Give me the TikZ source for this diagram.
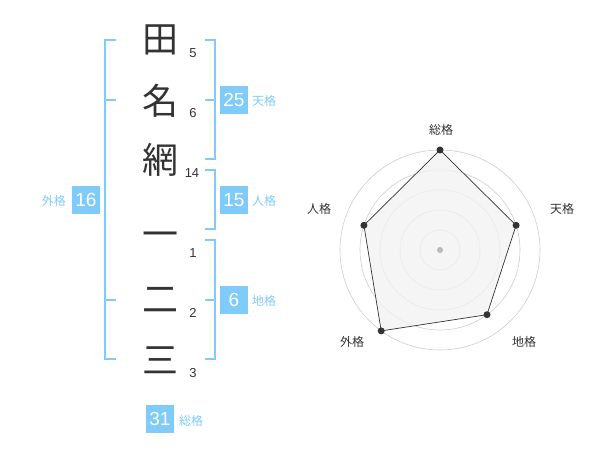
\documentclass[tikz,border=0pt]{standalone}
\usepackage{fontspec}
\usetikzlibrary{calc}
\setmainfont{Liberation Sans}
\newfontfamily\cjk{Noto Sans CJK JP}
\definecolor{bblue}{HTML}{7FCBF9}
\definecolor{ink}{HTML}{333333}
\definecolor{ringc}{HTML}{CCCCCC}
\definecolor{polyfill}{HTML}{F2F2F2}
\begin{document}
\begin{tikzpicture}[x=1pt,y=-1pt,
  kanji/.style={font=\cjk\fontsize{36}{36}\selectfont, text=ink, inner sep=0},
  strokes/.style={font=\fontsize{13}{13}\selectfont, text=ink, inner sep=0},
  numbox/.style={fill=bblue, text=white, minimum width=28pt, minimum height=28pt, inner sep=0, font=\fontsize{19}{19}\selectfont},
  kaku/.style={text=bblue, font=\cjk\fontsize{12}{12}\selectfont, inner sep=0},
  brk/.style={draw=bblue, line width=1.6pt},
  ring/.style={draw=ringc, line width=0.6pt},
  rlabel/.style={text=ink, font=\cjk\fontsize{12}{12}\selectfont, inner sep=0},
  vdot/.style={circle, fill=ink, inner sep=0, minimum size=7pt}
]
\useasboundingbox (0,0) rectangle (600,470);
% characters
\node[kanji] (c1) at (160,40) {田};
\node[kanji] (c2) at (160,101) {名};
\node[kanji] (c3) at (160,160) {網};
\node[kanji] (c4) at (160,240) {一};
\node[kanji] (c5) at (160,300) {二};
\node[kanji] (c6) at (160,360) {三};
\node[strokes] (s1) at (193,53) {5};
\node[strokes] (s2) at (193,113) {6};
\node[strokes] (s3) at (192,173) {14};
\node[strokes] (s4) at (193,253) {1};
\node[strokes] (s5) at (193,313) {2};
\node[strokes] (s6) at (193,373) {3};
% brackets
\draw[brk] (116,40) -- (105,40) -- (105,359) -- (116,359);
\draw[brk] (105,100) -- (116,100);
\draw[brk] (105,300) -- (116,300);
\draw[brk] (205,40) -- (215,40) -- (215,159) -- (205,159);
\draw[brk] (205,100) -- (215,100);
\draw[brk] (205,170) -- (215,170) -- (215,229) -- (205,229);
\draw[brk] (205,240) -- (215,240) -- (215,359) -- (205,359);
\draw[brk] (205,300) -- (215,300);
% boxes
\node[numbox] (ten) at (234,100) {25};
\node[kaku, anchor=west] (tenl) at (252,101) {天格};
\node[numbox] (jin) at (234,200) {15};
\node[kaku, anchor=west] (jinl) at (252,201) {人格};
\node[numbox] (chi) at (234,300) {6};
\node[kaku, anchor=west] (chil) at (252,301) {地格};
\node[numbox] (gai) at (86,200) {16};
\node[kaku, anchor=east] (gail) at (66,201) {外格};
\node[numbox] (sou) at (160,419) {31};
\node[kaku, anchor=west] (soul) at (179,421) {総格};
% radar
\coordinate (O) at (440,250);
\foreach \r in {20,40,60,80,100} \draw[ring] (O) circle (\r);
\coordinate (p1) at ($(O)+(0,-100)$);
\coordinate (p2) at ($(O)+(76.1,-24.7)$);
\coordinate (p3) at ($(O)+(47.0,64.7)$);
\coordinate (p4) at ($(O)+(-58.8,80.9)$);
\coordinate (p5) at ($(O)+(-76.1,-24.7)$);
\filldraw[fill=polyfill, fill opacity=0.8, draw=ink, line width=0.7pt] (p1) -- (p2) -- (p3) -- (p4) -- (p5) -- cycle;
\foreach \p in {p1,p2,p3,p4,p5} \node[vdot] at (\p) {};
\node[circle, fill=ringc!90!black, inner sep=0, minimum size=6pt] (ctr) at (O) {};
\node[rlabel] (l1) at (441,130) {総格};
\node[rlabel] (l2) at (562,209) {天格};
\node[rlabel] (l3) at (524,342) {地格};
\node[rlabel] (l4) at (352,342) {外格};
\node[rlabel] (l5) at (319,209) {人格};
\end{tikzpicture}
\end{document}
